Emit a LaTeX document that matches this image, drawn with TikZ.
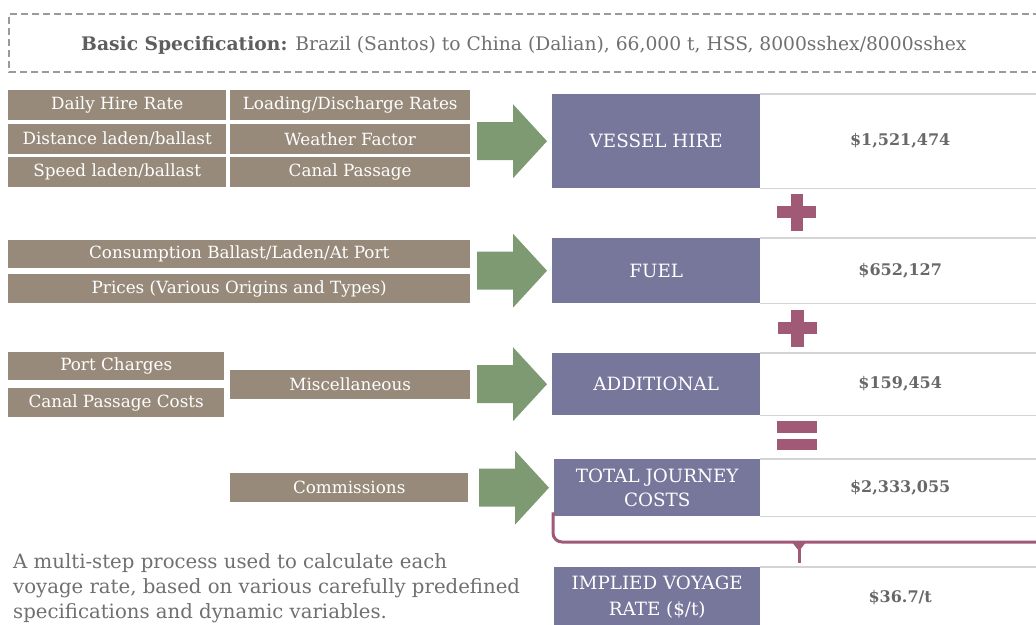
\documentclass[tikz,border=0pt]{standalone}
\usepackage{fontspec}
\setmainfont{DejaVu Serif}
\definecolor{brownbox}{HTML}{978A7A}
\definecolor{purplebox}{HTML}{77769B}
\definecolor{greenarr}{HTML}{7E9A72}
\definecolor{maroonc}{HTML}{A05A76}
\definecolor{txtgray}{HTML}{707070}
\definecolor{boldgray}{HTML}{5E5E5E}
\definecolor{valgray}{HTML}{686868}
\definecolor{linegray}{HTML}{D4D4D4}
\definecolor{dashgray}{HTML}{9A9A9A}
\tikzset{
  inbox/.style={fill=brownbox, text=white, inner sep=0pt, anchor=north west,
    font=\fontsize{16.8}{19}\selectfont},
  catbox/.style={fill=purplebox, text=white, inner sep=0pt, anchor=north west,
    align=center, font=\fontsize{18.3}{24}\selectfont},
  valbox/.style={fill=white, text=valgray, inner sep=0pt, anchor=north west,
    font=\bfseries\fontsize{16}{19}\selectfont},
  valline/.style={linegray, line width=1.5pt},
  garrow/.style={fill=greenarr},
  opsign/.style={fill=maroonc},
}
\newcommand{\greenarrow}[1]{%
  \fill[garrow, shift={(#1.west)}] (-75,-19) -- (-39,-19) -- (-39,-37) -- (-5,0)
    -- (-39,37) -- (-39,19) -- (-75,19) -- cycle;}
\newcommand{\valuelines}[1]{%
  \draw[valline] (#1.north west) -- (#1.north east);
  \draw[valline] (#1.south west) -- (#1.south east);}
\begin{document}
\begin{tikzpicture}[x=1pt,y=-1pt]
\useasboundingbox (0,0) rectangle (1036,624);
\clip (0,0) rectangle (1036,624);
\fill[white] (0,0) rectangle (1036,624);

% header
\draw[dashgray, line width=1.4pt, dash pattern=on 7pt off 4pt]
  (1040,14) -- (9,14) -- (9,72) -- (1040,72);
\node[anchor=base west, text=txtgray, inner sep=0pt,
  font=\fontsize{18.7}{22}\selectfont] (spec) at (81,50)
  {{\bfseries\color{boldgray}Basic Specification:} Brazil (Santos) to China (Dalian), 66,000 t, HSS, 8000sshex/8000sshex};

% inputs: vessel hire
\node[inbox, minimum width=218pt, minimum height=30pt] (dhr) at (8,90) {Daily Hire Rate};
\node[inbox, minimum width=240pt, minimum height=30pt] (ldr) at (230,90) {Loading/Discharge Rates};
\node[inbox, minimum width=218pt, minimum height=30pt] (dist) at (8,124) {Distance laden/ballast};
\node[inbox, minimum width=240pt, minimum height=30pt] (wf) at (230,124) {Weather Factor};
\node[inbox, minimum width=218pt, minimum height=30pt] (spd) at (8,157) {Speed laden/ballast};
\node[inbox, minimum width=240pt, minimum height=30pt] (cp) at (230,157) {Canal Passage};
% inputs: fuel
\node[inbox, minimum width=462pt, minimum height=28pt] (cons) at (8,240) {Consumption Ballast/Laden/At Port};
\node[inbox, minimum width=462pt, minimum height=29pt] (pri) at (8,274) {Prices (Various Origins and Types)};
% inputs: additional
\node[inbox, minimum width=216pt, minimum height=28pt] (pc) at (8,352) {Port Charges};
\node[inbox, minimum width=216pt, minimum height=29pt] (cpc) at (8,388) {Canal Passage Costs};
\node[inbox, minimum width=240pt, minimum height=29pt] (misc) at (230,370) {Miscellaneous};
% inputs: commissions
\node[inbox, minimum width=238pt, minimum height=29pt] (com) at (230,473) {Commissions};

% categories
\node[catbox, minimum width=208pt, minimum height=94pt] (vh) at (552,94) {VESSEL HIRE};
\node[catbox, minimum width=208pt, minimum height=65pt] (fuel) at (552,238) {FUEL};
\node[catbox, minimum width=208pt, minimum height=62pt] (add) at (552,353) {ADDITIONAL};
\node[catbox, minimum width=206pt, minimum height=57pt] (tot) at (554,459) {TOTAL JOURNEY\\COSTS};
\node[catbox, minimum width=206pt, minimum height=60pt, font=\fontsize{18.3}{26}\selectfont] (imp) at (554,567) {IMPLIED VOYAGE\\RATE (\$/t)};

% values
\node[valbox, minimum width=280pt, minimum height=94pt] (vhv) at (760,94) {\$1,521,474};
\node[valbox, minimum width=280pt, minimum height=65pt] (fuelv) at (760,238) {\$652,127};
\node[valbox, minimum width=280pt, minimum height=62pt] (addv) at (760,353) {\$159,454};
\node[valbox, minimum width=280pt, minimum height=57pt] (totv) at (760,459) {\$2,333,055};
\node[valbox, minimum width=280pt, minimum height=60pt] (impv) at (760,567) {\$36.7/t};
\valuelines{vhv}
\valuelines{fuelv}
\valuelines{addv}
\valuelines{totv}
\draw[valline] (impv.north west) -- (impv.north east);

% arrows
\greenarrow{vh}
\greenarrow{fuel}
\greenarrow{add}
\greenarrow{tot}

% operators
\fill[opsign] (777,206) rectangle (816,218);
\fill[opsign] (791,194) rectangle (803,231);
\fill[opsign] (778,322) rectangle (817,334);
\fill[opsign] (791,310) rectangle (804,347);
\fill[opsign] (777,421) rectangle (817,433);
\fill[opsign] (777,439) rectangle (817,450);

% brace
\coordinate (bl) at ([xshift=-1pt,yshift=4pt]tot.south west);
\coordinate (btip) at (799,563);
\draw[maroonc, line width=3pt, rounded corners=9pt] (bl) -- (553,542) -- (1040,542);
\draw[maroonc, line width=3pt] (799,542) -- (btip);
\fill[maroonc] (791,541) -- (807,541) -- (799,551) -- cycle;

% description
\node[anchor=base west, align=left, text=txtgray, inner sep=0pt,
  font=\fontsize{19.7}{25}\selectfont] (desc) at (13,618)
  {A multi-step process used to calculate each\\
   voyage rate, based on various carefully predefined\\
   specifications and dynamic variables.};
\end{tikzpicture}
\end{document}
